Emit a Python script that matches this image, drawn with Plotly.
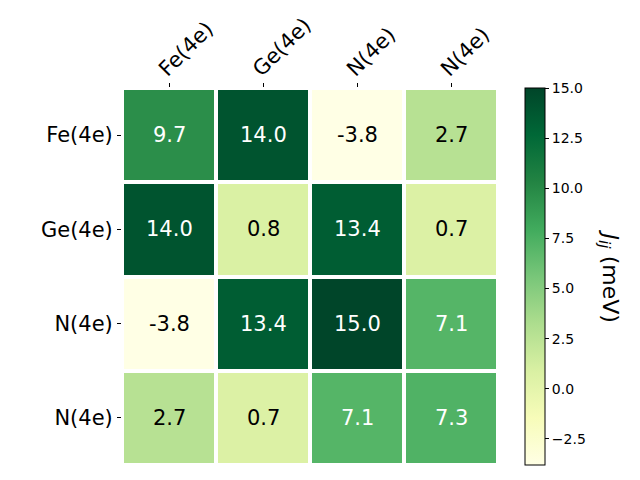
import plotly.graph_objects as go

labels = ["Fe(4e)", "Ge(4e)", "N(4e)", "N(4e)"]
values = [
    [9.7, 14.0, -3.8, 2.7],
    [14.0, 0.8, 13.4, 0.7],
    [-3.8, 13.4, 15.0, 7.1],
    [2.7, 0.7, 7.1, 7.3],
]
zmin, zmax = -3.8, 15.0
cb_ticks = [-2.5, 0.0, 2.5, 5.0, 7.5, 10.0, 12.5, 15.0]
cb_title = "<i>J</i><sub><i>ij</i></sub> (meV)"

idx = list(range(len(labels)))
font = "DejaVu Sans"

fig = go.Figure(go.Heatmap(
    z=values, x=idx, y=idx,
    colorscale="YlGn", zmin=zmin, zmax=zmax,
    xgap=4, ygap=4,
    colorbar=dict(
        x=1.072, xanchor="left", y=0.5, yanchor="middle",
        len=1.0, lenmode="fraction", thickness=20, thicknessmode="pixels",
        outlinecolor="black", outlinewidth=1,
        ticks="outside", ticklen=4, tickcolor="black",
        tickvals=cb_ticks, tickformat=".1f",
        tickfont=dict(family=font, size=14, color="black"),
        xpad=0, ypad=0,
    ),
    hoverinfo="skip",
))

mid = (zmin + zmax) / 2
for i, row in enumerate(values):
    for j, v in enumerate(row):
        fig.add_annotation(
            x=j, y=i, text=f"{v:.1f}", showarrow=False,
            font=dict(family=font, size=21, color="white" if v > mid else "black"),
        )

fig.add_annotation(
    x=1.295, y=0.5, xref="paper", yref="paper", text=cb_title,
    textangle=90, showarrow=False, xanchor="center", yanchor="middle",
    font=dict(family=font, size=22, color="black"),
)

fig.update_xaxes(
    side="top", tickvals=idx, ticktext=labels, tickangle=-45,
    ticks="outside", ticklen=4, tickcolor="black",
    ticklabelshift=-9, ticklabelstandoff=-6,
    tickfont=dict(family=font, size=21, color="black"),
    showgrid=False, zeroline=False, range=[-0.5, 3.5],
)
fig.update_yaxes(
    tickvals=idx, ticktext=labels, autorange=False, range=[3.5, -0.5],
    ticks="outside", ticklen=4, tickcolor="black",
    tickfont=dict(family=font, size=21, color="black"),
    showgrid=False, zeroline=False,
)
fig.update_layout(
    width=640, height=480,
    margin=dict(l=114, r=150, t=80, b=23, autoexpand=False),
    plot_bgcolor="white", paper_bgcolor="white",
)
fig.write_html("out.html")
